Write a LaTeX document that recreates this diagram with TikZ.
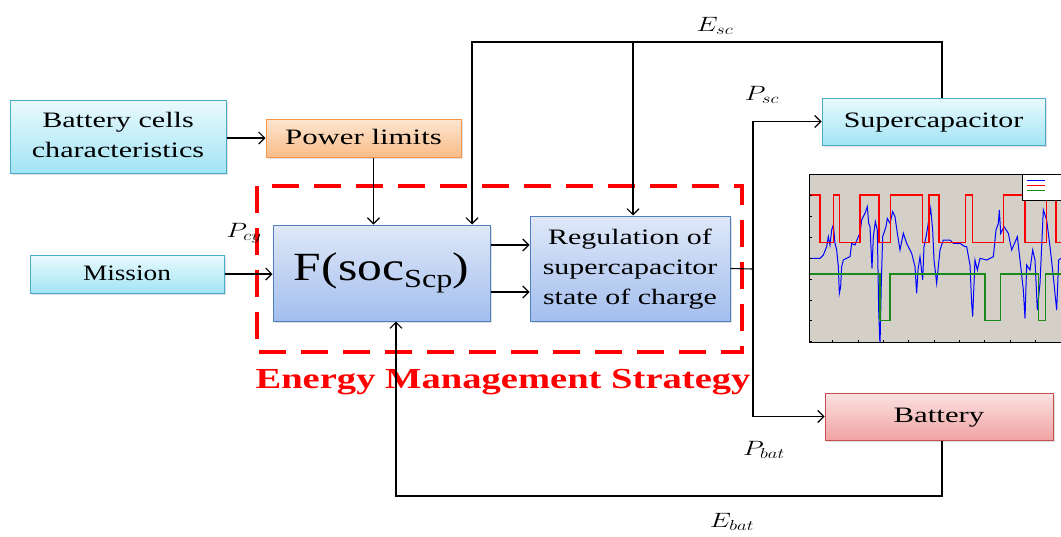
\documentclass[tikz,border=0pt]{standalone}
\usepackage{fontspec}
\usepackage{graphicx}
\setmainfont{Liberation Serif}
\usetikzlibrary{arrows.meta,shadows,calc}
\definecolor{cyanB}{HTML}{4BACC6}
\definecolor{cyanT}{HTML}{EAFAFE}
\definecolor{cyanL}{HTML}{A2E4F4}
\definecolor{blueB}{HTML}{4F81BD}
\definecolor{blueT}{HTML}{DFE8F8}
\definecolor{blueL}{HTML}{A3BEEE}
\definecolor{orgB}{HTML}{F79646}
\definecolor{orgT}{HTML}{FDE6D2}
\definecolor{orgL}{HTML}{F9BC88}
\definecolor{redB}{HTML}{C0504D}
\definecolor{redT}{HTML}{FBE2E2}
\definecolor{redL}{HTML}{F1A3A2}
\definecolor{plotbg}{HTML}{D4D0C8}
\definecolor{pgreen}{HTML}{1A8A1A}
\newcommand{\wtxt}[2][1.37]{\scalebox{#1}[1]{\begin{tabular}{@{}c@{}}#2\end{tabular}}}
\tikzset{
  box/.style={draw, line width=1pt, inner sep=2pt, align=center,
    font=\fontsize{22}{30}\selectfont,
    drop shadow={opacity=0.25, shadow xshift=1.5pt, shadow yshift=-2pt}},
  cyanbox/.style={box, draw=cyanB, top color=cyanT, bottom color=cyanL},
  bluebox/.style={box, draw=blueB, top color=blueT, bottom color=blueL},
  orangebox/.style={box, draw=orgB, top color=orgT, bottom color=orgL},
  redbox/.style={box, draw=redB, top color=redT, bottom color=redL},
  arr/.style={draw, line width=1.1pt, -{Straight Barb[length=6pt,width=12pt,line width=1.1pt]}},
  wire/.style={draw, line width=1.1pt},
  lab/.style={font=\fontsize{21}{22}\selectfont, inner sep=0pt},
}
\begin{document}
\begin{tikzpicture}[x=1pt,y=-1pt]
\useasboundingbox (0,0) rectangle (1061,536);
% dashed strategy frame
\draw[red, line width=4.5pt, dash pattern=on 27pt off 15pt] (257,186) rectangle (742,352);
\node[red, font=\fontsize{29}{32}\selectfont\bfseries, inner sep=0pt] (ems) at (503,382) {\scalebox{1.33}[1]{Energy Management Strategy}};
% boxes
\node[cyanbox, minimum width=216pt, minimum height=73pt] (cells) at (118,136.5) {\wtxt{Battery cells\\characteristics}};
\node[orangebox, minimum width=195pt, minimum height=38pt] (plim) at (363.5,138) {\wtxt[1.4]{Power limits}};
\node[cyanbox, minimum width=194pt, minimum height=38pt] (mission) at (127,274) {\wtxt[1.24]{Mission}};
\node[bluebox, minimum width=217pt, minimum height=96pt] (F) at (381.5,273) {\raisebox{10pt}{\scalebox{1.24}[1]{\fontsize{40}{44}\selectfont F(soc\raisebox{-7pt}{\fontsize{26}{28}\selectfont Scp})}}};
\node[bluebox, minimum width=200pt, minimum height=105pt] (reg) at (630,268.5) {\wtxt[1.36]{Regulation of\\supercapacitor\\state of charge}};
\node[cyanbox, minimum width=223pt, minimum height=47pt] (sc) at (933.5,121.5) {\wtxt[1.36]{Supercapacitor}};
\node[redbox, minimum width=228pt, minimum height=47pt] (bat) at (939,416.5) {\wtxt[1.4]{Battery}};
% connectors
\draw[arr] (cells.east |- plim.west) -- (plim.west);
\coordinate (p1) at ([xshift=10pt]plim.south);
\draw[arr] (p1) -- (p1 |- F.north);
\coordinate (esc1) at (942,42);
\coordinate (esc2) at (472,42);
\coordinate (esc3) at (633,42);
\draw[arr] (sc.north -| esc1) -- (esc1) -- (esc2) -- (esc2 |- F.north);
\draw[arr] (esc3) -- (esc3 |- reg.north);
\draw[arr] (mission.east) -- (mission.east -| F.west);
\coordinate (f1) at ([yshift=28pt]F.east);
\coordinate (f2) at ([yshift=-19pt]F.east);
\draw[arr] (f1) -- (f1 -| reg.west);
\draw[arr] (f2) -- (f2 -| reg.west);
\coordinate (split) at (753,269);
\draw[wire] (reg.east) -- (split);
\draw[arr] (split) |- (sc.west);
\draw[arr] (split) |- (bat.west);
\coordinate (eb1) at (942,496);
\coordinate (eb2) at (396,496);
\draw[arr] (bat.south -| eb1) -- (eb1) -- (eb2) -- (eb2 |- F.south);
% labels
\node[lab] (lEsc) at (715,26) {\scalebox{1.3}[1]{$E_{sc}$}};
\node[lab] (lPsc) at (762,95) {\scalebox{1.3}[1]{$P_{sc}$}};
\node[lab] (lPcy) at (244,233) {\scalebox{1.3}[1]{$P_{cy}$}};
\node[lab] (lPbat) at (764,450) {\scalebox{1.3}[1]{$P_{bat}$}};
\node[lab] (lEbat) at (732,522) {\scalebox{1.3}[1]{$E_{bat}$}};
% embedded plot
\begin{scope}[shift={(780,150)}, scale=1/3]
  \fill[plotbg] (88,72) rectangle (843,577);
  \begin{scope}
    \clip (88,72) rectangle (843,577);
    \draw[blue, line width=1pt] (88,325)--(120,325)--(130,315)--(140,290)--(145,260)--(150,285)--(155,240)--(160,225)--(165,280)--(170,300)--(175,350)--(178,430)--(182,410)--(185,350)--(190,330)--(200,325)--(210,320)--(215,280)--(225,285)--(235,260)--(240,250)--(245,210)--(255,190)--(262,170)--(266,220)--(270,230)--(276,355)--(280,260)--(286,215)--(292,240)--(296,480)--(300,590)--(304,395)--(308,260)--(318,230)--(322,205)--(330,220)--(338,185)--(345,200)--(352,250)--(360,300)--(370,250)--(380,280)--(395,310)--(405,350)--(410,430)--(414,360)--(420,320)--(428,390)--(432,290)--(440,250)--(452,175)--(458,240)--(462,330)--(470,400)--(480,300)--(490,270)--(510,270)--(520,280)--(540,280)--(555,290)--(560,290)--(570,345)--(575,460)--(578,500)--(585,330)--(592,360)--(600,325)--(620,330)--(640,320)--(648,240)--(655,220)--(658,180)--(662,250)--(672,230)--(685,250)--(695,300)--(712,260)--(720,330)--(730,420)--(735,505)--(740,345)--(750,360)--(758,300)--(765,330)--(772,480)--(780,400)--(790,180)--(800,210)--(810,290)--(820,380)--(830,480)--(836,330)--(843,325);
    \draw[red, line width=1.6pt] (88,135)--(120,135)--(120,277)--(160,277)--(160,135)--(178,135)--(178,277)--(240,277)--(240,135)--(297,135)--(297,277)--(332,277)--(332,135)--(428,135)--(428,277)--(447,277)--(447,135)--(477,135)--(477,277)--(557,277)--(557,135)--(577,135)--(577,277)--(670,277)--(670,135)--(735,135)--(735,277)--(800,277)--(800,135)--(828,135)--(828,277)--(850,277);
    \draw[pgreen, line width=1.6pt] (88,372)--(300,372)--(300,511)--(330,511)--(330,372)--(615,372)--(615,511)--(662,511)--(662,372)--(775,372)--(775,511)--(797,511)--(797,372)--(850,372);
    \fill[white] (728,72) rectangle (850,152);
    \draw[black, line width=1pt] (728,72) rectangle (850,152);
    \draw[blue, line width=0.8pt] (740,90) -- (795,90);
    \draw[red, line width=1.2pt] (740,107) -- (795,107);
    \draw[pgreen, line width=1.2pt] (740,122) -- (795,122);
  \end{scope}
  \draw[black, line width=0.9pt] (88,72) rectangle (843,577);
  \foreach \yy in {72,135,200,262,325,387,450,512,575} {\draw[line width=0.5pt] (88,\yy) -- (96,\yy);}
  \foreach \xx in {88,158,234,310,386,462,538,614,690,766} {\draw[line width=0.5pt] (\xx,577) -- (\xx,569);}
\end{scope}
\end{tikzpicture}
\end{document}
